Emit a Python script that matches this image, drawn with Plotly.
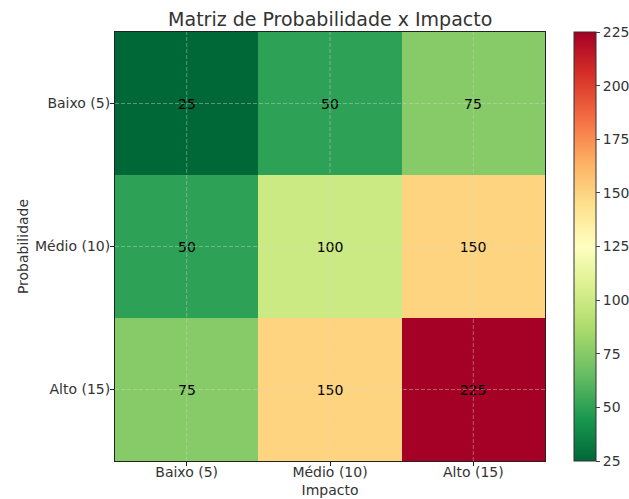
import plotly.graph_objects as go

impacto = ["Baixo (5)", "Médio (10)", "Alto (15)"]
probabilidade = ["Baixo (5)", "Médio (10)", "Alto (15)"]
valores = [
    [25, 50, 75],
    [50, 100, 150],
    [75, 150, 225],
]
cb_ticks = [25, 50, 75, 100, 125, 150, 175, 200, 225]

rdylgn_r = [
    [0.0, "#006837"], [0.1, "#1a9850"], [0.2, "#66bd63"], [0.3, "#a6d96a"],
    [0.4, "#d9ef8b"], [0.5, "#ffffbf"], [0.6, "#fee08b"], [0.7, "#fdae61"],
    [0.8, "#f46d43"], [0.9, "#d73027"], [1.0, "#a50026"],
]

font = "DejaVu Sans"

fig = go.Figure(go.Heatmap(
    z=valores, x=impacto, y=probabilidade,
    colorscale=rdylgn_r, zmin=25, zmax=225,
    text=[[str(v) for v in row] for row in valores],
    texttemplate="%{text}",
    textfont=dict(family=font, size=14, color="black"),
    hoverinfo="skip",
    colorbar=dict(
        tickvals=cb_ticks, ticks="outside", ticklen=4,
        thickness=22, len=1.0, lenmode="fraction", y=0.5, yanchor="middle",
        x=1.067, xanchor="left", xpad=0, ypad=0,
        outlinewidth=1, outlinecolor="#333",
        tickfont=dict(family=font, size=14, color="#333"),
    ),
))

grid_line = dict(color="rgba(215,215,215,0.42)", width=1, dash="4px,2px")
shapes = []
for i, _ in enumerate(impacto):
    shapes.append(dict(type="line", layer="above", xref="x", yref="paper",
                       x0=i, x1=i, y0=0, y1=1, line=grid_line))
for j, _ in enumerate(probabilidade):
    shapes.append(dict(type="line", layer="above", xref="paper", yref="y",
                       x0=0, x1=1, y0=j, y1=j, line=grid_line))

fig.update_layout(
    width=629, height=499,
    margin=dict(l=115, r=84, t=32, b=38, autoexpand=False),
    paper_bgcolor="white", plot_bgcolor="white",
    title=dict(text="Matriz de Probabilidade x Impacto", x=0.525, xanchor="center",
               y=0.962, yanchor="middle",
               font=dict(family=font, size=19, color="#333")),
    font=dict(family=font, size=14, color="#333"),
    shapes=shapes,
)
fig.update_xaxes(
    title=dict(text="Impacto", standoff=6, font=dict(size=14, color="#333")),
    showline=True, linecolor="#222", linewidth=1, mirror=True,
    ticks="outside", ticklen=4, tickcolor="#222", ticklabelstandoff=-6,
    showgrid=False, layer="above traces", tickfont=dict(size=14, color="#333"),
)
fig.update_yaxes(
    title=dict(text="Probabilidade", standoff=3, font=dict(size=14, color="#333")),
    autorange="reversed",
    showline=True, linecolor="#222", linewidth=1, mirror=True,
    ticks="outside", ticklen=4, tickcolor="#222", ticklabelstandoff=-3,
    showgrid=False, layer="above traces", tickfont=dict(size=14, color="#333"),
)

fig.write_html("out.html", config={"displayModeBar": False},
               post_script="document.body.style.margin='0';document.body.style.overflow='hidden';")
